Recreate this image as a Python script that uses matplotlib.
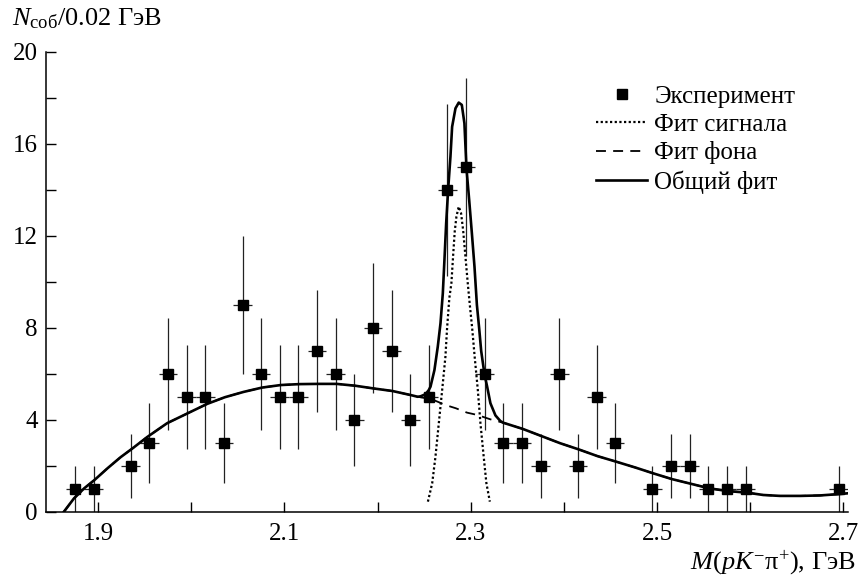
import numpy as np
import matplotlib
matplotlib.use("Agg")
import matplotlib.pyplot as plt

plt.rcParams["font.family"] = ["Liberation Serif", "DejaVu Serif"]
plt.rcParams["mathtext.fontset"] = "custom"
plt.rcParams["mathtext.rm"] = "Liberation Serif"
plt.rcParams["mathtext.it"] = "Liberation Serif:italic"

# --- data ---
mass = [1.875, 1.895, 1.935, 1.955, 1.975, 1.995, 2.015, 2.035, 2.055, 2.075,
        2.095, 2.115, 2.135, 2.155, 2.175, 2.195, 2.215, 2.235, 2.255, 2.275,
        2.295, 2.315, 2.335, 2.355, 2.375, 2.395, 2.415, 2.435, 2.455, 2.495,
        2.515, 2.535, 2.555, 2.575, 2.595, 2.695]
counts = [1, 1, 2, 3, 6, 5, 5, 3, 9, 6,
          5, 5, 7, 6, 4, 8, 7, 4, 5, 14,
          15, 6, 3, 3, 2, 6, 2, 5, 3, 1,
          2, 2, 1, 1, 1, 1]
errors = [1.0, 1.0, 1.41, 1.73, 2.45, 2.24, 2.24, 1.73, 3.0, 2.45,
          2.24, 2.24, 2.65, 2.45, 2.0, 2.83, 2.65, 2.0, 2.24, 3.74,
          3.87, 2.45, 1.73, 1.73, 1.41, 2.45, 1.41, 2.24, 1.73, 1.0,
          1.41, 1.41, 1.0, 1.0, 1.0, 1.0]
bin_half = 0.01

# background fit
bkg_x = [1.863, 1.874, 1.885, 1.896, 1.910, 1.924, 1.937, 1.953, 1.974, 1.996,
         2.017, 2.036, 2.056, 2.076, 2.096, 2.116, 2.136, 2.156, 2.176, 2.196,
         2.216, 2.236, 2.243, 2.253, 2.260, 2.273, 2.284, 2.296, 2.307, 2.321,
         2.335, 2.356, 2.376, 2.396, 2.416, 2.436, 2.456, 2.477, 2.496, 2.516,
         2.537, 2.556, 2.576, 2.597, 2.614, 2.632, 2.654, 2.675, 2.696, 2.704]
bkg_y = [0.0, 0.59, 1.03, 1.39, 1.90, 2.38, 2.77, 3.27, 3.86, 4.29,
         4.70, 4.99, 5.22, 5.41, 5.52, 5.56, 5.57, 5.57, 5.49, 5.37,
         5.26, 5.08, 5.01, 4.94, 4.87, 4.65, 4.51, 4.32, 4.22, 4.03,
         3.88, 3.61, 3.30, 2.99, 2.72, 2.43, 2.19, 1.93, 1.68, 1.43,
         1.22, 1.03, 0.91, 0.84, 0.74, 0.70, 0.70, 0.72, 0.78, 0.81]

# signal fit
sig_x = [2.2540, 2.2586, 2.2621, 2.2657, 2.2693, 2.2728, 2.2746, 2.2770, 2.2792,
         2.2810, 2.2828, 2.2846, 2.2871, 2.2896, 2.2918, 2.2943, 2.2968, 2.2990,
         2.3015, 2.3042, 2.3076, 2.3104, 2.3139, 2.3168, 2.3205]
sig_y = [0.45, 1.25, 2.4, 3.86, 5.3, 6.75, 8.0, 9.3, 9.94,
         11.1, 12.2, 12.84, 13.28, 12.99, 12.26, 11.1, 9.94, 9.0,
         8.0, 6.75, 5.3, 3.86, 2.4, 1.25, 0.45]

# total fit around the peak (elsewhere it follows the background)
pk_x = [2.2461, 2.2514, 2.2549, 2.2568, 2.2610, 2.2646, 2.2675, 2.2700, 2.2718,
        2.2736, 2.2757, 2.2782, 2.2800, 2.2836, 2.2871, 2.2904, 2.2932, 2.2954,
        2.2983, 2.3012, 2.3040, 2.3066, 2.3090, 2.3112, 2.3147, 2.3176, 2.3211,
        2.3265, 2.3319]
pk_y = [5.03, 5.12, 5.30, 5.45, 6.17, 7.19, 8.20, 9.50, 11.0,
        12.55, 14.0, 15.45, 16.75, 17.55, 17.80, 17.70, 16.90, 14.94,
        13.57, 12.12, 10.67, 9.0, 8.0, 7.0, 6.0, 5.45, 4.73,
        4.20, 3.95]

bx = np.array(bkg_x)
by = np.array(bkg_y)
lo = bx < pk_x[0]
hi = bx > pk_x[-1]
tot_x = np.concatenate([bx[lo], pk_x, bx[hi]])
tot_y = np.concatenate([by[lo], pk_y, by[hi]])

fig = plt.figure(figsize=(8.62, 5.77), dpi=100)
ax = fig.add_axes([46 / 862, 1 - 512 / 577, (848 - 46) / 862, (512 - 52) / 577])

ax.errorbar(mass, counts, yerr=errors, xerr=bin_half, fmt="none",
            ecolor="#222222", elinewidth=0.9, capsize=0, zorder=2)
ax.plot(bkg_x, bkg_y, color="black", lw=1.3, linestyle=(0, (5.5, 4)),
        label="Фит фона", zorder=3)
ax.plot(sig_x, sig_y, color="black", lw=1.6, linestyle=(0, (1, 1.1)),
        label="Фит сигнала", zorder=3)
ax.plot(tot_x, tot_y, color="black", lw=1.9, label="Общий фит", zorder=4)
ax.plot(mass, counts, "s", color="black", markersize=6.5,
        label="Эксперимент", zorder=5)

ax.set_xlim(1.844, 2.705)
ax.set_ylim(0, 20)
ax.set_xticks([1.9, 2.1, 2.3, 2.5, 2.7])
ax.set_xticklabels(["1.9", "2.1", "2.3", "2.5", "2.7"])
ax.set_xticks([2.0, 2.2, 2.4, 2.6], minor=True)
ax.set_yticks([0, 4, 8, 12, 16, 20])
ax.set_yticks([2, 6, 10, 14, 18], minor=True)
ax.tick_params(which="both", direction="in", length=7, width=1.0,
               labelsize=18, top=False, right=False)
ax.tick_params(axis="x", which="both", pad=8)
ax.tick_params(axis="y", which="both", pad=6)
for side in ["top", "right"]:
    ax.spines[side].set_visible(False)
for side in ["left", "bottom"]:
    ax.spines[side].set_linewidth(1.1)

handles, labels = ax.get_legend_handles_labels()
order = [3, 1, 0, 2]
ax.legend([handles[i] for i in order], [labels[i] for i in order],
          loc="upper left", bbox_to_anchor=(596 / 862, 1 - 85 / 577),
          bbox_transform=fig.transFigure, frameon=False, fontsize=18,
          handlelength=2.05, handletextpad=0.28, labelspacing=0.23,
          borderpad=0, borderaxespad=0)

fig.text(12 / 862, 1 - 25 / 577, r"$N_{\mathrm{соб}}$/0.02 ГэВ",
         fontsize=19, ha="left", va="baseline")
fig.text(856 / 862, 1 - 569 / 577, r"$M(pK^{-}\mathrm{\pi}^{+})$, ГэВ",
         fontsize=19, ha="right", va="baseline")

fig.savefig("out.png", dpi=100)
